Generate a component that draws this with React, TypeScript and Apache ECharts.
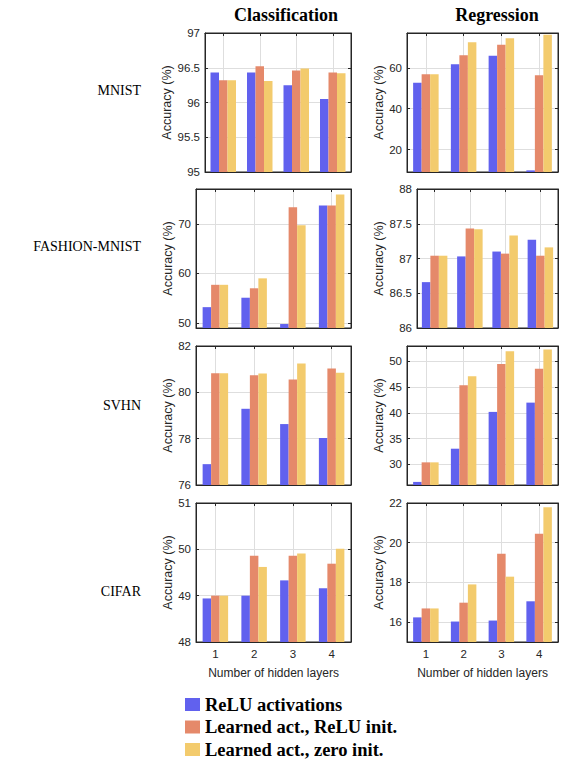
import React, { useEffect, useRef } from 'react';
import * as echarts from 'echarts';

const layers = ['1', '2', '3', '4'];
const seriesNames = ['ReLU activations', 'Learned act., ReLU init.', 'Learned act., zero init.'];
const barColors = ['#6161EE', '#E5896A', '#F3CB6D'];
const datasetNames = ['MNIST', 'FASHION-MNIST', 'SVHN', 'CIFAR'];
const columnTitles = ['Classification', 'Regression'];

// MNIST
const mnistClsRelu = [96.43, 96.43, 96.25, 96.05];
const mnistClsReluInit = [96.32, 96.52, 96.46, 96.43];
const mnistClsZeroInit = [96.32, 96.31, 96.49, 96.42];
const mnistRegRelu = [52.7, 61.8, 65.9, 9.8];
const mnistRegReluInit = [56.9, 66.2, 71.4, 56.4];
const mnistRegZeroInit = [56.9, 72.6, 74.5, 76.2];
// FASHION-MNIST
const fashionClsRelu = [53.2, 55.1, 49.8, 73.7];
const fashionClsReluInit = [57.7, 57.0, 73.3, 73.7];
const fashionClsZeroInit = [57.7, 59.0, 69.7, 75.9];
const fashionRegRelu = [86.66, 87.03, 87.1, 87.27];
const fashionRegReluInit = [87.04, 87.43, 87.07, 87.04];
const fashionRegZeroInit = [87.04, 87.42, 87.33, 87.16];
// SVHN
const svhnClsRelu = [76.9, 79.29, 78.63, 78.03];
const svhnClsReluInit = [80.82, 80.74, 80.55, 81.03];
const svhnClsZeroInit = [80.82, 80.81, 81.24, 80.84];
const svhnRegRelu = [26.6, 33.05, 40.2, 42.0];
const svhnRegReluInit = [30.4, 45.4, 49.5, 48.6];
const svhnRegZeroInit = [30.4, 47.1, 52.0, 52.3];
// CIFAR
const cifarClsRelu = [48.94, 49.0, 49.33, 49.16];
const cifarClsReluInit = [49.0, 49.86, 49.86, 49.69];
const cifarClsZeroInit = [49.0, 49.62, 49.91, 50.01];
const cifarRegRelu = [16.24, 16.03, 16.08, 17.05];
const cifarRegReluInit = [16.69, 16.98, 19.45, 20.45];
const cifarRegZeroInit = [16.69, 17.9, 18.29, 21.78];

// y-axis tick labels and ranges
const mnistClsTicks = [95, 95.5, 96, 96.5, 97];
const mnistClsRange = [95, 97];
const mnistRegTicks = [20, 40, 60];
const mnistRegRange = [9, 77.1];
const fashionClsTicks = [50, 60, 70];
const fashionClsRange = [49, 77];
const fashionRegTicks = [86, 86.5, 87, 87.5, 88];
const fashionRegRange = [86, 88];
const svhnClsTicks = [76, 78, 80, 82];
const svhnClsRange = [76, 82];
const svhnRegTicks = [30, 35, 40, 45, 50];
const svhnRegRange = [26, 53];
const cifarClsTicks = [48, 49, 50, 51];
const cifarClsRange = [48, 51];
const cifarRegTicks = [16, 18, 20, 22];
const cifarRegRange = [15, 22];

const AXIS = '#262626';
const GRIDLINE = '#dedede';
const SANS = '"Liberation Sans", Arial, sans-serif';
const SERIF = '"Liberation Serif", "Times New Roman", serif';

const panels = [
  { left: 205, top: 33, width: 146, ticks: mnistClsTicks, range: mnistClsRange, values: [mnistClsRelu, mnistClsReluInit, mnistClsZeroInit], nameX: 171, last: false },
  { left: 407, top: 33, width: 151, ticks: mnistRegTicks, range: mnistRegRange, values: [mnistRegRelu, mnistRegReluInit, mnistRegZeroInit], nameX: 382, last: false },
  { left: 196, top: 189, width: 155, ticks: fashionClsTicks, range: fashionClsRange, values: [fashionClsRelu, fashionClsReluInit, fashionClsZeroInit], nameX: 171, last: false },
  { left: 417, top: 189, width: 141, ticks: fashionRegTicks, range: fashionRegRange, values: [fashionRegRelu, fashionRegReluInit, fashionRegZeroInit], nameX: 382, last: false },
  { left: 196, top: 346, width: 155, ticks: svhnClsTicks, range: svhnClsRange, values: [svhnClsRelu, svhnClsReluInit, svhnClsZeroInit], nameX: 171, last: false },
  { left: 407, top: 346, width: 151, ticks: svhnRegTicks, range: svhnRegRange, values: [svhnRegRelu, svhnRegReluInit, svhnRegZeroInit], nameX: 382, last: false },
  { left: 196, top: 503, width: 155, ticks: cifarClsTicks, range: cifarClsRange, values: [cifarClsRelu, cifarClsReluInit, cifarClsZeroInit], nameX: 171, last: true },
  { left: 407, top: 503, width: 151, ticks: cifarRegTicks, range: cifarRegRange, values: [cifarRegRelu, cifarRegReluInit, cifarRegZeroInit], nameX: 382, last: true },
];
const PANEL_H = 139;
const rowLabelY = [90, 246, 405, 591];
const titleX = [286, 497];

function buildOption() {
  const grid = panels.map((p) => ({
    left: p.left, top: p.top, width: p.width, height: PANEL_H,
    show: true, borderColor: AXIS, borderWidth: 1, backgroundColor: 'transparent',
  }));
  const xAxis: any[] = [];
  const yAxis: any[] = [];
  panels.forEach((p, i) => {
    xAxis.push({
      type: 'category', gridIndex: i, data: layers, position: 'bottom',
      axisLine: { show: true, lineStyle: { color: AXIS, width: 1 } },
      axisTick: { show: true, inside: true, alignWithLabel: true, length: 3, lineStyle: { color: AXIS } },
      axisLabel: { show: p.last, margin: 6, color: AXIS, fontSize: 11.5, fontFamily: SANS },
      splitLine: { show: true, alignWithLabel: true, lineStyle: { color: GRIDLINE, width: 1 } },
      name: p.last ? 'Number of hidden layers' : '',
      nameLocation: 'middle', nameGap: 25,
      nameTextStyle: { color: AXIS, fontSize: 12, fontFamily: SANS },
    });
    yAxis.push({
      type: 'value', gridIndex: i, min: p.range[0], max: p.range[1], position: 'left',
      axisLine: { show: true, lineStyle: { color: AXIS, width: 1 } },
      axisTick: { show: true, inside: true, length: 3, customValues: p.ticks, lineStyle: { color: AXIS } },
      axisLabel: { show: true, customValues: p.ticks, margin: 5, color: AXIS, fontSize: 11.5, fontFamily: SANS },
      splitLine: { show: true, lineStyle: { color: GRIDLINE, width: 1 } },
      name: 'Accuracy (%)', nameLocation: 'middle', nameGap: p.left - p.nameX - 6,
      nameTextStyle: { color: AXIS, fontSize: 12.5, fontFamily: SANS },
    });
  });
  panels.forEach((p, i) => {
    xAxis.push({
      type: 'category', gridIndex: i, data: layers, position: 'top',
      axisLine: { show: true, lineStyle: { color: AXIS, width: 1 } },
      axisTick: { show: true, inside: true, alignWithLabel: true, length: 3, lineStyle: { color: AXIS } },
      axisLabel: { show: false }, splitLine: { show: false },
    });
    yAxis.push({
      type: 'value', gridIndex: i, min: p.range[0], max: p.range[1], position: 'right',
      axisLine: { show: true, lineStyle: { color: AXIS, width: 1 } },
      axisTick: { show: true, inside: true, length: 3, customValues: p.ticks, lineStyle: { color: AXIS } },
      axisLabel: { show: false }, splitLine: { show: false },
    });
  });
  const series: any[] = [];
  panels.forEach((p, i) => {
    p.values.forEach((vals, k) => {
      series.push({
        name: seriesNames[k], type: 'bar', xAxisIndex: i, yAxisIndex: i,
        data: vals, barWidth: 8.5, barGap: '0%',
        itemStyle: { color: barColors[k] }, silent: true, z: 2,
      });
    });
  });
  const graphic: any[] = [];
  columnTitles.forEach((t, c) => {
    graphic.push({
      type: 'text', x: titleX[c], y: 15,
      style: { text: t, font: `bold 18px ${SERIF}`, fill: '#000', align: 'center', verticalAlign: 'middle' },
    });
  });
  datasetNames.forEach((d, r) => {
    graphic.push({
      type: 'text', x: 141, y: rowLabelY[r],
      style: { text: d, font: `14px ${SERIF}`, fill: '#000', align: 'right', verticalAlign: 'middle' },
    });
  });
  return {
    animation: false,
    backgroundColor: '#fff',
    grid, xAxis, yAxis, series, graphic,
    legend: {
      data: seriesNames, orient: 'vertical', left: 185, top: 695, height: 90, padding: 0,
      itemWidth: 15, itemHeight: 13, itemGap: 3.5, icon: 'rect', selectedMode: false,
      textStyle: { fontFamily: SERIF, fontWeight: 'bold', fontSize: 18.5, color: '#000' },
    },
  };
}

export default function App() {
  const ref = useRef<HTMLDivElement>(null);
  useEffect(() => {
    if (!ref.current) return;
    const chart = echarts.init(ref.current, undefined, { renderer: 'svg' });
    chart.setOption(buildOption());
    return () => chart.dispose();
  }, []);
  return (
    <div
      ref={ref}
      style={{ position: 'fixed', left: 0, top: 0, width: 565, height: 761, background: '#fff' }}
    />
  );
}
